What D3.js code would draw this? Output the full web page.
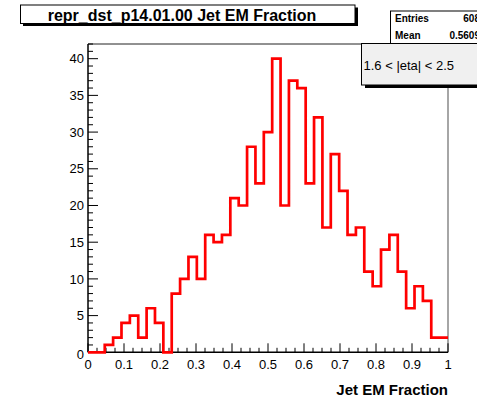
<!DOCTYPE html>
<html><head><meta charset="utf-8">
<script src="https://cdn.jsdelivr.net/npm/d3@7"></script>
<style>body{margin:0;background:#fff}svg{display:block;font-family:"Liberation Sans",Arial,sans-serif}</style>
</head><body><svg id="c" width="477" height="401"></svg>
<script>
const titleText = "repr_dst_p14.01.00 Jet EM Fraction";
const xTitle = "Jet EM Fraction";
const legendText = "1.6 < |eta| < 2.5";
const statsLabels = ["Entries", "Mean"];
const statsValues = ["608", "0.5609"];
const xRange = [0, 1];
const nBins = 43;
const counts = [0,0,1,2,4,5,2,6,4,0,8,10,13,10,16,15,16,21,20,28,23,30,40,20,37,36,23,32,17,27,22,16,17,11,9,14,16,11,6,9,7,2,2];
const yMax = 42;
const xTickLabels = ["0","0.1","0.2","0.3","0.4","0.5","0.6","0.7","0.8","0.9","1"];
const yTickLabels = ["0","5","10","15","20","25","30","35","40"];

const svg = d3.select("#c");
const L = 88, R = 448, T = 44, B = 352.3;
const x = d3.scaleLinear().domain(xRange).range([L, R]);
const y = d3.scaleLinear().domain([0, yMax]).range([B, T]);

// frame
svg.append("line").attr("x1", L).attr("x2", R).attr("y1", T).attr("y2", T).attr("stroke", "#222").attr("stroke-width", 1);
svg.append("line").attr("x1", R).attr("x2", R).attr("y1", T).attr("y2", B).attr("stroke", "#888").attr("stroke-width", 1.5);

// y axis
const yAxis = svg.append("g").attr("stroke", "#000");
yAxis.append("line").attr("x1", L).attr("x2", L).attr("y1", T).attr("y2", B).attr("stroke-width", 1.5);
d3.range(0, yMax + 0.001, 1).forEach(v => {
  const major = v % 5 === 0;
  yAxis.append("line").attr("x1", L).attr("x2", L + (major ? 10 : 5))
    .attr("y1", y(v)).attr("y2", y(v)).attr("stroke-width", 1);
});
svg.append("g").selectAll("text").data(yTickLabels).join("text")
  .attr("x", 84).attr("y", d => y(+d) + (d === "0" ? 2 : 0)).attr("dy", "0.36em")
  .attr("text-anchor", "end").attr("font-size", 13).attr("fill", "#000").text(d => d);

// x axis
const xAxis = svg.append("g").attr("stroke", "#000");
xAxis.append("line").attr("x1", L).attr("x2", R).attr("y1", B).attr("y2", B).attr("stroke-width", 1.5);
d3.range(0, 41).forEach(i => {
  const v = i * 0.025;
  const major = i % 4 === 0;
  xAxis.append("line").attr("x1", x(v)).attr("x2", x(v))
    .attr("y1", B).attr("y2", B - (major ? 9 : 4.5)).attr("stroke-width", 1);
});
svg.append("g").selectAll("text").data(xTickLabels).join("text")
  .attr("x", d => x(+d)).attr("y", 369)
  .attr("text-anchor", "middle").attr("font-size", 13).attr("fill", "#000").text(d => d);
svg.append("text").attr("x", R).attr("y", 395).attr("text-anchor", "end")
  .attr("font-size", 15).attr("font-weight", "bold").text(xTitle);

// histogram
const w = (xRange[1] - xRange[0]) / nBins;
const pts = [];
counts.forEach((c, i) => {
  const x0 = xRange[0] + i * w, x1 = x0 + w;
  pts.push([x(x0), y(c)], [x(x1), y(c)]);
});
svg.append("path").attr("d", d3.line()(pts)).attr("fill", "none")
  .attr("stroke", "#ff0000").attr("stroke-width", 2.7).attr("stroke-linejoin", "miter");

// title box
svg.append("rect").attr("x", 23).attr("y", 7.5).attr("width", 335).attr("height", 18.5).attr("fill", "#000");
svg.append("rect").attr("x", 20.5).attr("y", 5).attr("width", 334.5).attr("height", 18.5).attr("fill", "#fff").attr("stroke", "#000").attr("stroke-width", 1);
svg.append("text").attr("x", 182).attr("y", 21).attr("text-anchor", "middle")
  .attr("font-size", 16).attr("font-weight", "bold").text(titleText);

// stats box
svg.append("rect").attr("x", 390.5).attr("y", 11).attr("width", 100).attr("height", 40).attr("fill", "#fff").attr("stroke", "#000").attr("stroke-width", 1);
statsLabels.forEach((s, i) => {
  svg.append("text").attr("x", 395).attr("y", 22 + i * 17).attr("font-size", 10).attr("font-weight", "bold").text(s);
  svg.append("text").attr("x", 480).attr("y", 22 + i * 17).attr("text-anchor", "end").attr("font-size", 10).attr("font-weight", "bold").text(statsValues[i]);
});

// legend box
svg.append("rect").attr("x", 365).attr("y", 46).attr("width", 130).attr("height", 42).attr("fill", "#000");
svg.append("rect").attr("x", 361.5).attr("y", 43.5).attr("width", 130).attr("height", 41.5).attr("fill", "#f0f0f0").attr("stroke", "#000").attr("stroke-width", 1);
svg.append("text").attr("x", 363.5).attr("y", 69.5).attr("font-size", 13).text(legendText);
</script></body></html>
